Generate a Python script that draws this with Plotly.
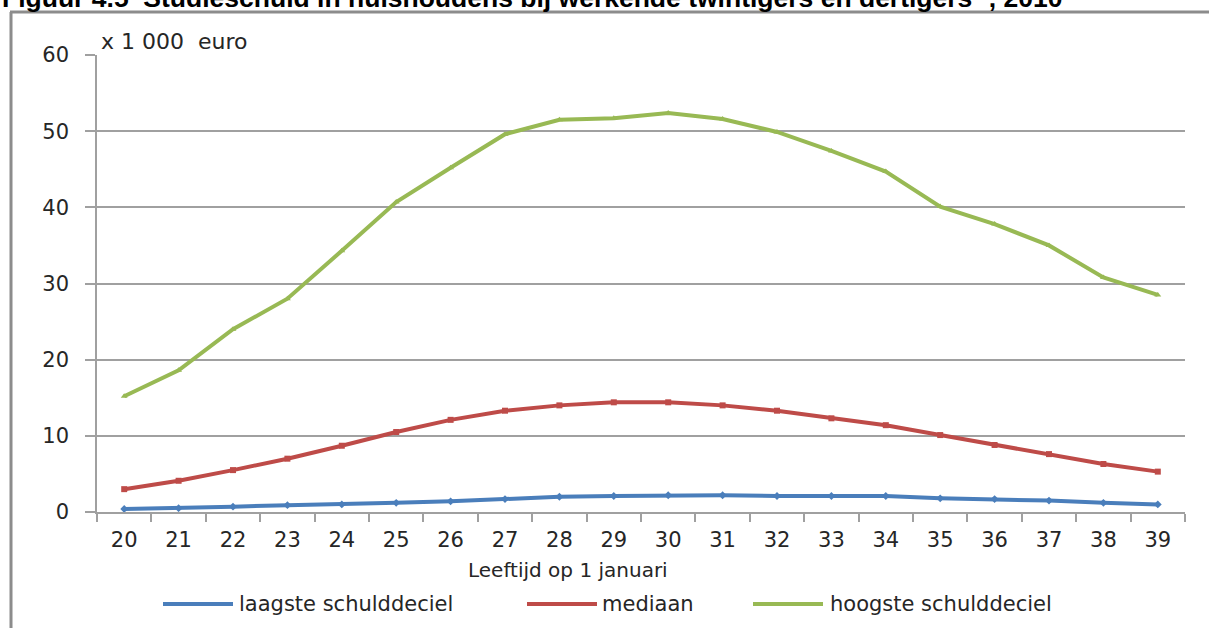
import plotly.graph_objects as go

ages = [str(a) for a in range(20, 40)]
laagste = [0.4, 0.5, 0.7, 0.9, 1.0, 1.2, 1.4, 1.7, 2.0, 2.1, 2.2, 2.2, 2.1, 2.1, 2.1, 1.8, 1.7, 1.5, 1.2, 1.0]
mediaan = [3.0, 4.1, 5.5, 7.0, 8.7, 10.5, 12.1, 13.3, 14.0, 14.4, 14.4, 14.0, 13.3, 12.3, 11.4, 10.1, 8.8, 7.6, 6.3, 5.3]
hoogste = [15.2, 18.6, 24.0, 28.0, 34.3, 40.7, 45.2, 49.6, 51.5, 51.7, 52.4, 51.6, 49.9, 47.4, 44.7, 40.1, 37.8, 35.0, 30.8, 28.5]

series_names = ["laagste schulddeciel", "mediaan", "hoogste schulddeciel"]
series_colors = ["#4A7EBB", "#BE4B48", "#98B954"]
series_symbols = ["diamond", "square", "triangle-up"]
y_ticks = [0, 10, 20, 30, 40, 50, 60]

W, H = 1209, 628
ML, MR, MT, MB = 97, 24, 55, 116
PW, PH = W - ML - MR, H - MT - MB


def px(x):
    return (x - ML) / PW


def py(y):
    return (H - MB - y) / PH


fig = go.Figure()
for name, vals, col, sym in zip(series_names, [laagste, mediaan, hoogste], series_colors, series_symbols):
    fig.add_trace(go.Scatter(
        x=ages, y=vals, name=name, mode="lines+markers",
        line=dict(color=col, width=4),
        marker=dict(symbol=sym, size=6, color=col),
        showlegend=False,
    ))

grid = "#a0a0a0"
fig.update_layout(
    width=W, height=H, autosize=False,
    margin=dict(l=ML, r=MR, t=MT, b=MB, pad=0),
    paper_bgcolor="white", plot_bgcolor="white",
    font=dict(family="DejaVu Sans", size=20, color="#262626"),
    xaxis=dict(
        type="category", range=[-0.5, 19.5], tickson="boundaries",
        ticks="outside", ticklen=8, tickcolor=grid, tickwidth=1.5,
        showline=True, linecolor=grid, linewidth=1.5,
        showgrid=False, tickfont=dict(size=21, family="DejaVu Sans", color="#262626"),
        ticklabelstandoff=8,
    ),
    yaxis=dict(
        range=[0, 60], tickvals=y_ticks, ticks="outside", ticklen=10,
        tickcolor=grid, tickwidth=1.5, showline=True, linecolor=grid, linewidth=1.5,
        showgrid=True, gridcolor=grid, gridwidth=1.5, zeroline=False,
        tickfont=dict(size=21, family="DejaVu Sans", color="#262626"),
        ticklabelstandoff=12,
    ),
)

shapes = []
annotations = []

# outer frame (left and top border)
shapes.append(dict(type="line", xref="paper", yref="paper", x0=px(11), x1=px(11), y0=py(12), y1=py(640),
                   line=dict(color="#8c8c8c", width=3)))
shapes.append(dict(type="line", xref="paper", yref="paper", x0=px(10), x1=px(1220), y0=py(12), y1=py(12),
                   line=dict(color="#8c8c8c", width=3)))

# title (cut off at top edge, as in the reference)
annotations.append(dict(
    xref="paper", yref="paper", x=px(0), y=py(-4), xanchor="left", yanchor="middle",
    text="<b>Figuur 4.5  Studieschuld in huishoudens bij werkende twintigers en dertigers<sup>1)</sup>, 2010</b>",
    showarrow=False, font=dict(family="Liberation Sans", size=26.5, color="#000000"),
))

# unit label
annotations.append(dict(
    xref="paper", yref="paper", x=px(99), y=py(42), xanchor="left", yanchor="middle",
    text="x 1\u00a0000\u00a0\u00a0euro", showarrow=False,
    font=dict(family="DejaVu Sans", size=22, color="#262626"),
))

# x axis title
annotations.append(dict(
    xref="paper", yref="paper", x=px(568), y=py(570), xanchor="center", yanchor="middle",
    text="Leeftijd op 1 januari", showarrow=False,
    font=dict(family="DejaVu Sans", size=20, color="#262626"),
))

# custom legend
leg_y = 604
leg_pos = [(163, 233, 237), (527, 597, 600), (753, 823, 828)]
for (x0, x1, xt), name, col, sym in zip(leg_pos, series_names, series_colors, series_symbols):
    shapes.append(dict(type="line", xref="paper", yref="paper", x0=px(x0), x1=px(x1), y0=py(leg_y), y1=py(leg_y),
                       line=dict(color=col, width=4)))
    annotations.append(dict(
        xref="paper", yref="paper", x=px(xt), y=py(leg_y), xanchor="left", yanchor="middle",
        text=name, showarrow=False, font=dict(family="DejaVu Sans", size=21, color="#262626"),
    ))

fig.update_layout(shapes=shapes, annotations=annotations)
fig.write_html(
    "out.html",
    config={"displayModeBar": False},
    post_script="document.body.style.margin='0';document.body.style.overflow='hidden';",
)
